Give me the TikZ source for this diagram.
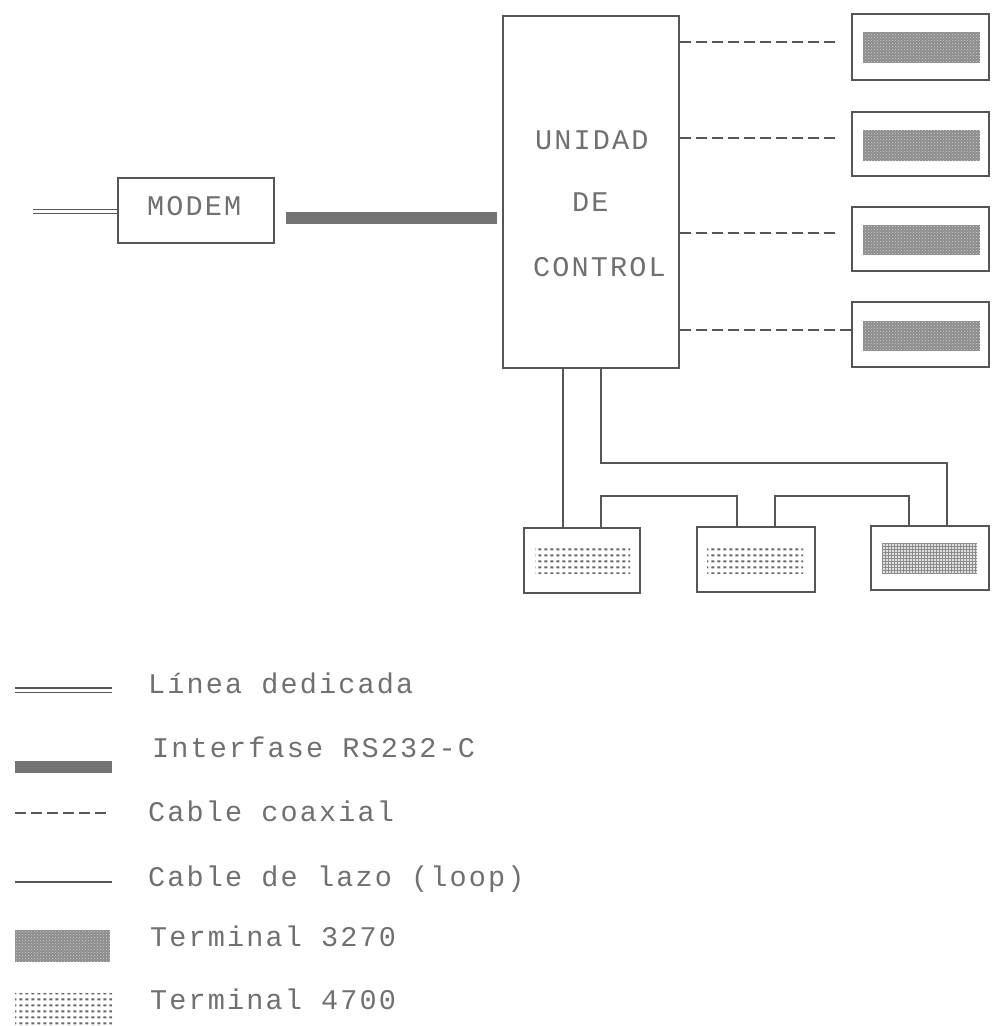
\documentclass[tikz,border=0pt]{standalone}
\usepackage{fontspec}
\newfontfamily\dm[LetterSpace=7.5]{Liberation Mono}
\usetikzlibrary{patterns,patterns.meta,calc}
\definecolor{ink}{HTML}{555555}
\definecolor{txt}{HTML}{707070}
\tikzdeclarepattern{
  name=dotsfour,
  type=uncolored,
  bounding box={(0pt,0pt) and (6.4pt,6pt)},
  tile size={(6.4pt,6pt)},
  code={
    \pgfpathrectangle{\pgfpoint{1.6pt}{1.8pt}}{\pgfpoint{3.2pt}{2.4pt}}
    \pgfusepath{fill}
  }
}
\begin{document}
\begin{tikzpicture}[x=1pt,y=-1pt,
  box/.style={draw=ink, line width=1.5pt, fill=white, inner sep=0pt},
  lbl/.style={font=\dm\fontsize{28.5}{30}\selectfont, text=txt, inner sep=0pt},
  wire/.style={draw=ink, line width=1.6pt},
  coax/.style={wire, dash pattern=on 11pt off 5pt},
  dedicada/.style={draw=ink, double=white, double distance=3pt, line width=1.3pt},
  rs/.style={draw=black!55, line width=12pt},
  tthree/.style={draw=none, inner sep=0pt, fill=black!45, postaction={pattern=crosshatch dots, pattern color=black!18}},
  tfour/.style={draw=none, inner sep=0pt, pattern=dotsfour, pattern color=black!60},
  tmesh/.style={draw=none, inner sep=0pt, fill=black!12, postaction={pattern=grid, pattern color=black!45}}
]
\useasboundingbox (0,0) rectangle (994,1026);

% main boxes
\node[box, minimum width=176pt, minimum height=352pt] (cu) at (591,192) {};
\node[lbl, anchor=base west] (cu1) at (535,149) {UNIDAD};
\node[lbl, anchor=base west] (cu2) at (572,211) {DE};
\node[lbl, anchor=base west] (cu3) at (533,276) {CONTROL};

\node[box, minimum width=156pt, minimum height=65pt] (modem) at (196,210.5) {};
\node[lbl, anchor=base west] (modemtxt) at (147,215) {MODEM};

% terminals 3270
\node[box, minimum width=137pt, minimum height=66pt] (a1) at (920.5,47) {};
\node[tthree, minimum width=117pt, minimum height=31pt] (a1s) at (921.5,47.5) {};
\node[box, minimum width=137pt, minimum height=64pt] (a2) at (920.5,144) {};
\node[tthree, minimum width=117pt, minimum height=31pt] (a2s) at (921.5,145.5) {};
\node[box, minimum width=137pt, minimum height=64pt] (a3) at (920.5,239) {};
\node[tthree, minimum width=117pt, minimum height=30pt] (a3s) at (921.5,240) {};
\node[box, minimum width=137pt, minimum height=65pt] (a4) at (920.5,334.5) {};
\node[tthree, minimum width=117pt, minimum height=30pt] (a4s) at (921.5,336) {};

% terminals 4700
\node[box, minimum width=116pt, minimum height=65pt] (b1) at (582,560.5) {};
\node[tfour, minimum width=95pt, minimum height=28pt] (b1s) at (582.5,559) {};
\node[box, minimum width=118pt, minimum height=65pt] (b2) at (756,559.5) {};
\node[tfour, minimum width=96pt, minimum height=28pt] (b2s) at (755,559) {};
\node[box, minimum width=118pt, minimum height=64pt] (b3) at (930,558) {};
\node[tmesh, minimum width=95pt, minimum height=30pt] (b3s) at (929.5,558) {};

% dedicated line and RS232
\coordinate (ld) at (33,211.5);
\draw[dedicada] (ld) -- (ld -| modem.west);
\coordinate (rsA) at ([xshift=11pt,yshift=-7.5pt]modem.east);
\draw[rs, shorten >=5pt] (rsA) -- (rsA -| cu.west);

% coax
\coordinate (c1) at ([yshift=5pt]a1.west);
\coordinate (c2) at ([yshift=6pt]a2.west);
\coordinate (c3) at ([yshift=6pt]a3.west);
\coordinate (c4) at ([yshift=4.5pt]a4.west);
\draw[coax] (cu.east |- c1) -- ([xshift=-12pt]c1);
\draw[coax] (cu.east |- c2) -- ([xshift=-12pt]c2);
\draw[coax] (cu.east |- c3) -- ([xshift=-12pt]c3);
\draw[coax] (cu.east |- c4) -- (c4);

% loop
\coordinate (p563) at (563,0);
\coordinate (p601) at (601,0);
\coordinate (p775) at (775,0);
\coordinate (j1) at (947,463);
\coordinate (j2) at (737,496);
\coordinate (j3) at (909,496);
\draw[wire] (cu.south -| p563) -- (b1.north -| p563);
\draw[wire] (cu.south -| p601) |- (j1) -- (b3.north -| j1);
\draw[wire] (b1.north -| p601) |- (j2) -- (b2.north -| j2);
\draw[wire] (b2.north -| p775) |- (j3) -- (b3.north -| j3);

% legend
\coordinate (l1a) at (15,690); \coordinate (l1b) at (112,690);
\draw[dedicada] (l1a) -- (l1b);
\node[lbl, anchor=base west] (t1) at (148,693) {Línea dedicada};
\coordinate (l2a) at (15,767); \coordinate (l2b) at (112,767);
\draw[rs] (l2a) -- (l2b);
\node[lbl, anchor=base west] (t2) at (152,757) {Interfase RS232-C};
\coordinate (l3a) at (15,813); \coordinate (l3b) at (108,813);
\draw[coax] (l3a) -- (l3b);
\node[lbl, anchor=base west] (t3) at (148,821) {Cable coaxial};
\coordinate (l4a) at (15,882); \coordinate (l4b) at (112,882);
\draw[wire] (l4a) -- (l4b);
\node[lbl, anchor=base west] (t4) at (148,886) {Cable de lazo (loop)};
\node[tthree, minimum width=95pt, minimum height=32pt] (l5) at (62.5,946) {};
\node[lbl, anchor=base west] (t5) at (150,946) {Terminal 3270};
\node[tfour, minimum width=97pt, minimum height=32pt] (l6) at (63.5,1009) {};
\node[lbl, anchor=base west] (t6) at (150,1009) {Terminal 4700};
\end{tikzpicture}
\end{document}
